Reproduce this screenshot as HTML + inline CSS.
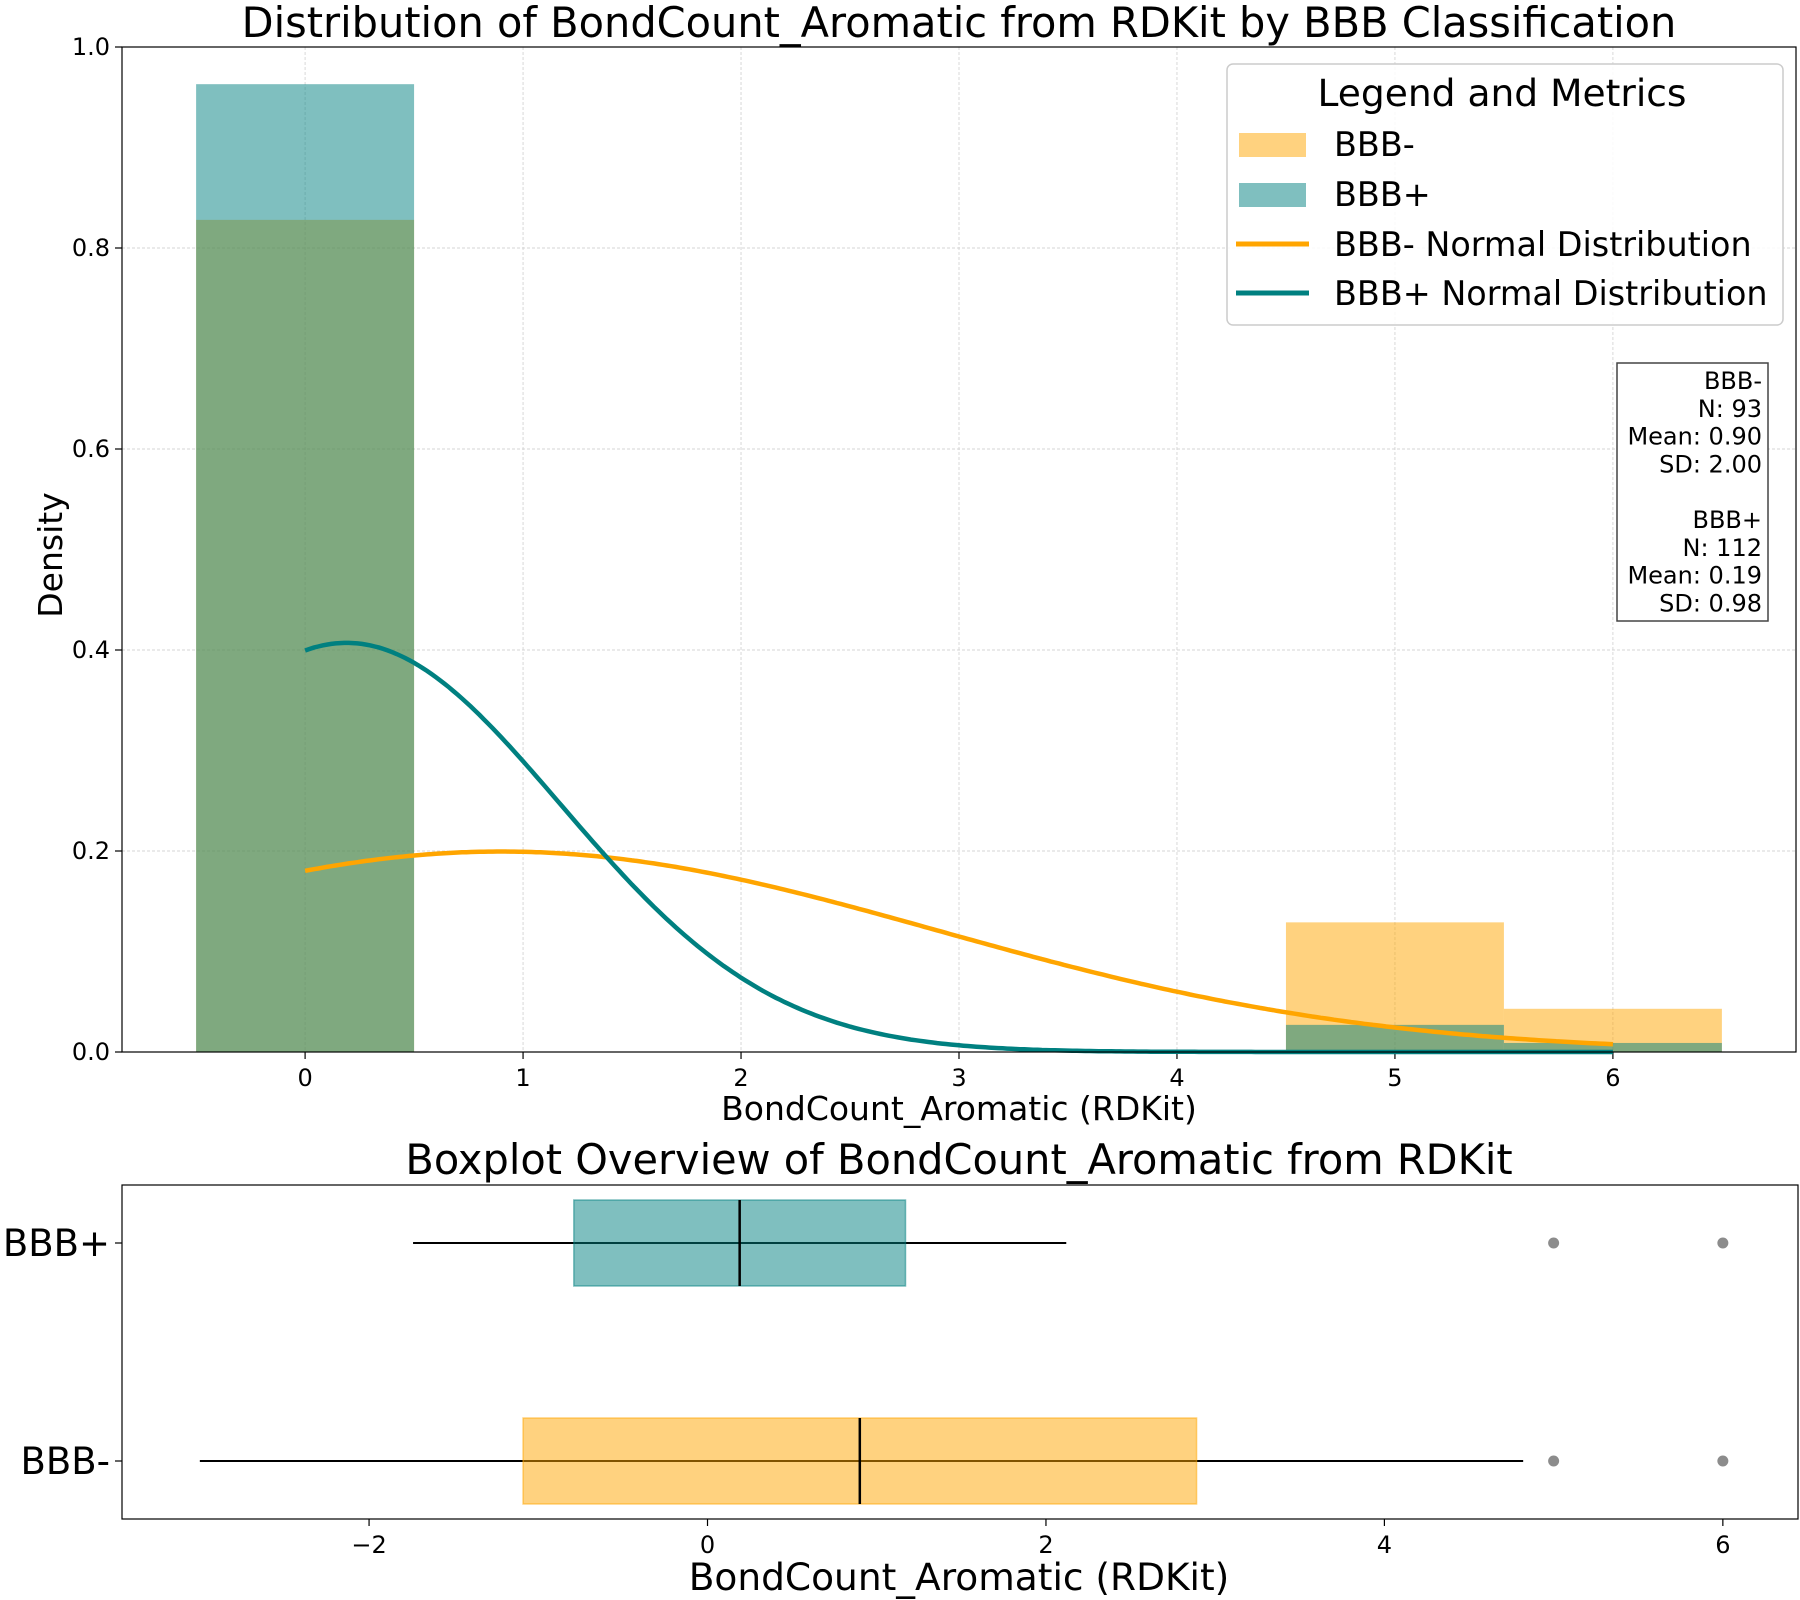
<!DOCTYPE html>
<html><head><meta charset="utf-8"><style>
html,body{margin:0;padding:0;background:#fff}
svg{display:block;font-family:"DejaVu Sans","Liberation Sans",sans-serif}
</style></head><body>
<svg id="chart" width="1800" height="1600" viewBox="0 0 1800 1600" xmlns="http://www.w3.org/2000/svg">
<rect width="1800" height="1600" fill="#fff"/>
<g id="topPanel"></g>
<g id="botPanel"></g>
</svg>
<script>
const groups = ["BBB-", "BBB+"];
const colors = ["#FFA500", "#008080"];
const binCenters = [0, 5, 6];
const densNeg = [0.828, 0.129, 0.043];
const densPos = [0.963, 0.027, 0.009];
const means = [0.90, 0.19];
const sds = [2.00, 0.98];
const counts = [93, 112];
const boxQ1 = [-1.09, -0.79];
const boxMed = [0.90, 0.19];
const boxQ3 = [2.89, 1.17];
const whiskLo = [-3.0, -1.74];
const whiskHi = [4.82, 2.12];
const outliersNeg = [5, 6];
const outliersPos = [5, 6];
const topXTicks = [0, 1, 2, 3, 4, 5, 6];
const topYTicks = [0, 0.2, 0.4, 0.6, 0.8, 1.0];
const botXTicks = [-2, 0, 2, 4, 6];

const NS = "http://www.w3.org/2000/svg";
function mk(parent, tag, attrs, text) {
  const e = document.createElementNS(NS, tag);
  for (const k in attrs) e.setAttribute(k, attrs[k]);
  if (text !== undefined) e.textContent = text;
  parent.appendChild(e);
  return e;
}
const topG = document.getElementById('topPanel');
const botG = document.getElementById('botPanel');

const T = {l:122, r:1796, t:47, b:1052, x0:-0.84, x1:6.84, y0:0, y1:1};
const tx = v => T.l + (v - T.x0) / (T.x1 - T.x0) * (T.r - T.l);
const ty = v => T.b - (v - T.y0) / (T.y1 - T.y0) * (T.b - T.t);

topXTicks.forEach(v => {
  let g = mk(topG, 'line', {x1:tx(v), x2:tx(v), y1:T.t, y2:T.b, stroke:'#d4d4d4', 'stroke-width':0.9, 'stroke-dasharray':'3,2'});
  
  
  let k = mk(topG, 'line', {x1:tx(v), x2:tx(v), y1:T.b, y2:T.b+7, stroke:'#000', 'stroke-width':1.2});
  
  
  let t = mk(topG, 'text', {x:tx(v), y:T.b+34, 'font-size':24, 'text-anchor':'middle'}, String(v));
  
  
});
topYTicks.forEach(v => {
  let g = mk(topG, 'line', {x1:T.l, x2:T.r, y1:ty(v), y2:ty(v), stroke:'#d4d4d4', 'stroke-width':0.9, 'stroke-dasharray':'3,2'});
  
  
  let k = mk(topG, 'line', {x1:T.l-7, x2:T.l, y1:ty(v), y2:ty(v), stroke:'#000', 'stroke-width':1.2});
  
  
  let t = mk(topG, 'text', {x:T.l-12, y:ty(v)+8, 'font-size':24, 'text-anchor':'end'}, v.toFixed(1));
  
  
});

[densNeg, densPos].forEach((arr, gi) => {
  binCenters.forEach((c, i) => {
    let b = mk(topG, 'rect', {x:tx(c-0.5), y:ty(arr[i]), width:tx(c+0.5)-tx(c-0.5), height:ty(0)-ty(arr[i]), fill:colors[gi], 'fill-opacity':0.5});
    
    
  });
});
[0, 1].forEach(gi => {
  let pts = [];
  for (let i = 0; i <= 300; i++) {
    const x = 6 * i / 300;
    const y = Math.exp(-0.5 * Math.pow((x - means[gi]) / sds[gi], 2)) / (sds[gi] * Math.sqrt(2 * Math.PI));
    pts.push(tx(x).toFixed(1) + ',' + ty(y).toFixed(1));
  }
  let p = mk(topG, 'polyline', {points:pts.join(' '), fill:'none', stroke:colors[gi], 'stroke-width':4.5});
  
  
});
let fr = mk(topG, 'rect', {x:T.l, y:T.t, width:T.r-T.l, height:T.b-T.t, fill:'none', stroke:'#000', 'stroke-width':1.2});


let tt = mk(topG, 'text', {x:959, y:37, 'font-size':41.5, 'text-anchor':'middle'}, 'Distribution of BondCount_Aromatic from RDKit by BBB Classification');


let xl = mk(topG, 'text', {x:959, y:1120, 'font-size':33, 'text-anchor':'middle'}, 'BondCount_Aromatic (RDKit)');


let yl = mk(topG, 'text', {x:0, y:0, 'font-size':33, 'text-anchor':'middle', transform:'translate(62,555) rotate(-90)'}, 'Density');



const lg = mk(topG, 'g', {});


let lb = mk(lg, 'rect', {x:1227, y:64, width:556, height:261, rx:6, fill:'#fff', 'fill-opacity':0.85, stroke:'#ccc', 'stroke-width':1.5});


let lt = mk(lg, 'text', {x:1502, y:106, 'font-size':37.6, 'text-anchor':'middle'}, 'Legend and Metrics');


const legLabels = ['BBB-', 'BBB+', 'BBB- Normal Distribution', 'BBB+ Normal Distribution'];
const legBase = [156, 206, 256, 305];
legLabels.forEach((lab, i) => {
  const c = colors[i % 2];
  let m;
  if (i < 2) m = mk(lg, 'rect', {x:1239, y:legBase[i]-23, width:67, height:24, fill:c, 'fill-opacity':0.5});
  else m = mk(lg, 'line', {x1:1236, x2:1309, y1:legBase[i]-12, y2:legBase[i]-12, stroke:c, 'stroke-width':5});
  
  
  let t = mk(lg, 'text', {x:1334, y:legBase[i], 'font-size':33.4}, lab);
  
  
});

let sb = mk(topG, 'rect', {x:1617, y:363, width:151, height:258, fill:'#fff', stroke:'#444', 'stroke-width':1.5});


const statLines = [];
[0, 1].forEach(gi => {
  statLines.push(groups[gi], 'N: ' + counts[gi], 'Mean: ' + means[gi].toFixed(2), 'SD: ' + sds[gi].toFixed(2));
  if (gi === 0) statLines.push('');
});
statLines.forEach((s, i) => {
  let t = mk(topG, 'text', {x:1762, y:389 + i * 27.8, 'font-size':24, 'text-anchor':'end'}, s);
  
  
});

const B = {l:122, r:1799, t:1185, b:1519, x0:-3.46, x1:6.45, yTop:1243, yBot:1461};
const bx = v => B.l + (v - B.x0) / (B.x1 - B.x0) * (B.r - B.l);
const by = gi => gi === 1 ? B.yTop : B.yBot;
const boxH = 86;
botXTicks.forEach(v => {
  let k = mk(botG, 'line', {x1:bx(v), x2:bx(v), y1:B.b, y2:B.b+7, stroke:'#000', 'stroke-width':1.2});
  
  
  let t = mk(botG, 'text', {x:bx(v), y:B.b+34, 'font-size':24, 'text-anchor':'middle'}, v < 0 ? '\u2212' + Math.abs(v) : String(v));
  
  
});
[0, 1].forEach(gi => {
  const y = by(gi);
  let w = mk(botG, 'line', {x1:bx(whiskLo[gi]), x2:bx(whiskHi[gi]), y1:y, y2:y, stroke:'#000', 'stroke-width':2});
  
  
  let r = mk(botG, 'rect', {x:bx(boxQ1[gi]), y:y-boxH/2, width:bx(boxQ3[gi])-bx(boxQ1[gi]), height:boxH, fill:colors[gi], 'fill-opacity':0.5, stroke:colors[gi], 'stroke-opacity':0.5, 'stroke-width':1.5});
  
  
  let m = mk(botG, 'line', {x1:bx(boxMed[gi]), x2:bx(boxMed[gi]), y1:y-boxH/2, y2:y+boxH/2, stroke:'#000', 'stroke-width':2.5});
  
  
  (gi === 0 ? outliersNeg : outliersPos).forEach(o => {
    let c = mk(botG, 'circle', {cx:bx(o), cy:y, r:5.5, fill:'#808080', 'fill-opacity':0.9});
    
    
  });
  let k = mk(botG, 'line', {x1:B.l-7, x2:B.l, y1:y, y2:y, stroke:'#000', 'stroke-width':1.2});
  
  
  let t = mk(botG, 'text', {x:B.l-12, y:y+13, 'font-size':37, 'text-anchor':'end'}, groups[gi]);
  
  
});
let bf = mk(botG, 'rect', {x:B.l, y:B.t, width:B.r-B.l-1, height:B.b-B.t, fill:'none', stroke:'#000', 'stroke-width':1.2});


let bt = mk(botG, 'text', {x:959, y:1174, 'font-size':41.5, 'text-anchor':'middle'}, 'Boxplot Overview of BondCount_Aromatic from RDKit');


let bxl = mk(botG, 'text', {x:959, y:1590, 'font-size':37.5, 'text-anchor':'middle'}, 'BondCount_Aromatic (RDKit)');


</script>
</body></html>
